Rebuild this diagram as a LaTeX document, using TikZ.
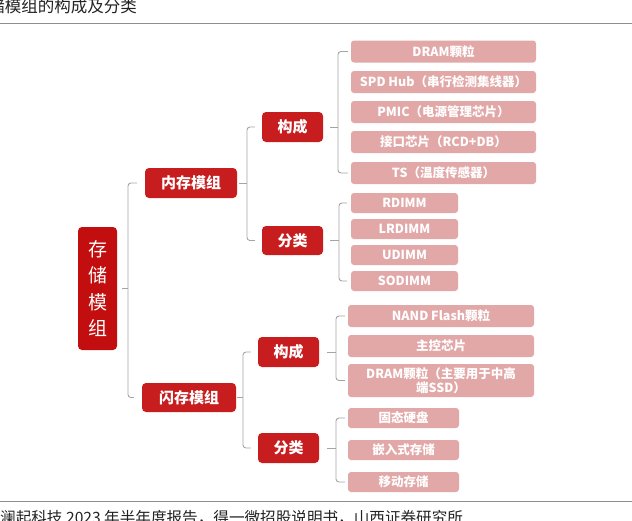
\documentclass[tikz,border=0pt]{standalone}
\usepackage{fontspec}
\setmainfont{Noto Sans CJK SC}
\usetikzlibrary{calc}
\definecolor{rootred}{HTML}{C20E0E}
\definecolor{boxred}{HTML}{C81D1F}
\definecolor{pinkbox}{HTML}{E2A7A7}
\definecolor{linegray}{HTML}{A4A4A4}
\definecolor{rulegray}{HTML}{8E8E8E}
\definecolor{txtdark}{HTML}{222222}
\begin{document}
\begin{tikzpicture}[x=1pt,y=-1pt,
  rootbox/.style={fill=rootred, rounded corners=4pt, text=white, minimum width=39pt, minimum height=123pt, inner sep=0pt, align=center, font=\fontsize{19}{26.5}\selectfont},
  lvbox/.style={fill=boxred, rounded corners=4pt, text=white, inner sep=0pt, font=\bfseries\fontsize{15}{18}\selectfont},
  leaf/.style={fill=pinkbox, rounded corners=3pt, text=white, inner sep=0pt, font=\bfseries\fontsize{12.5}{15}\selectfont},
  conn/.style={draw=linegray, line width=0.9pt, rounded corners=3pt},
  rulel/.style={draw=rulegray, line width=1.8pt}
]
\useasboundingbox (0,0) rectangle (632,520);

% title and source
\node[anchor=base east, inner sep=0pt, text=txtdark, font=\fontsize{16.5}{18}\selectfont] (title) at (137,12.5) {存储模组的构成及分类};
\draw[rulel] (0,23.5) -- (632,23.5);
\draw[rulel] (0,501.5) -- (632,501.5);
\node[anchor=base west, inner sep=0pt, text=txtdark, font=\fontsize{15.6}{18}\selectfont] (src) at (0,523.5) {澜起科技 2023 年半年度报告，得一微招股说明书，山西证券研究所};

% root
\node[rootbox] (root) at (97.5,288.5) {存\\储\\模\\组};

% level 1
\node[lvbox, minimum width=92pt, minimum height=30pt] (nc) at (191,183) {内存模组};
\node[lvbox, minimum width=94pt, minimum height=29pt] (fc) at (189,397.5) {闪存模组};

% level 2
\node[lvbox, minimum width=61pt, minimum height=30pt] (gc1) at (292.5,127) {构成};
\node[lvbox, minimum width=61pt, minimum height=29pt] (fl1) at (292.5,240.5) {分类};
\node[lvbox, minimum width=61pt, minimum height=30pt] (gc2) at (288.5,352) {构成};
\node[lvbox, minimum width=61pt, minimum height=30pt] (fl2) at (288.5,448) {分类};

% leaves A
\node[leaf, minimum width=185pt, minimum height=22pt] (a1) at (443.5,51.5) {DRAM颗粒};
\node[leaf, minimum width=185pt, minimum height=22pt] (a2) at (443.5,82) {SPD Hub（串行检测集线器）};
\node[leaf, minimum width=185pt, minimum height=22pt] (a3) at (443.5,112) {PMIC（电源管理芯片）};
\node[leaf, minimum width=185pt, minimum height=22pt] (a4) at (443.5,142) {接口芯片（RCD+DB）};
\node[leaf, minimum width=185pt, minimum height=22pt] (a5) at (443.5,173) {TS（温度传感器）};

% leaves B
\node[leaf, minimum width=107pt, minimum height=20pt] (b1) at (404.5,203) {RDIMM};
\node[leaf, minimum width=107pt, minimum height=20pt] (b2) at (404.5,229) {LRDIMM};
\node[leaf, minimum width=107pt, minimum height=20pt] (b3) at (404.5,255) {UDIMM};
\node[leaf, minimum width=107pt, minimum height=20pt] (b4) at (404.5,281) {SODIMM};

% leaves C
\node[leaf, minimum width=186pt, minimum height=22pt] (c1) at (441,316) {NAND Flash颗粒};
\node[leaf, minimum width=186pt, minimum height=22pt] (c2) at (441,346) {主控芯片};
\node[leaf, minimum width=186pt, minimum height=33pt, align=center, font=\bfseries\fontsize{12.5}{14.5}\selectfont] (c3) at (441,380.5) {DRAM颗粒（主要用于中高\\端SSD）};

% leaves D
\node[leaf, minimum width=111pt, minimum height=20pt] (d1) at (403.5,418) {固态硬盘};
\node[leaf, minimum width=111pt, minimum height=20pt] (d2) at (403.5,450) {嵌入式存储};
\node[leaf, minimum width=111pt, minimum height=20pt] (d3) at (403.5,482) {移动存储};

% bracket verticals
\coordinate (v0) at (128,0);
\coordinate (v1) at (247,0);
\coordinate (v2) at (243,0);
\coordinate (v3) at (338,0);
\coordinate (v4) at (339,0);
\coordinate (v5) at (336,0);

% root brackets
\draw[conn] ($(nc.west)+(-8,0)$) -- (nc.west -| v0) -- (fc.west -| v0) -- ($(fc.west)+(-8,0)$);
\draw[conn] ($(root.east)+(5,0)$) -- (root.east -| v0);

% 内存模组
\draw[conn] ($(gc1.west)+(-7,0)$) -- (gc1.west -| v1) -- (fl1.west -| v1) -- ($(fl1.west)+(-7,0)$);
\draw[conn] ($(nc.east)+(2,0)$) -- (nc.east -| v1);

% 闪存模组
\draw[conn] ($(gc2.west)+(-7,0)$) -- (gc2.west -| v2) -- (fl2.west -| v2) -- ($(fl2.west)+(-7,0)$);
\draw[conn] ($(fc.east)+(1,0)$) -- (fc.east -| v2);

% 构成 (top)
\draw[conn] ($(a1.west)+(-3,0)$) -- (a1.west -| v3) -- (a5.west -| v3) -- ($(a5.west)+(-3,0)$);
\draw[conn] ($(gc1.east)+(7,0)$) -- (gc1.east -| v3);

% 分类 (top)
\draw[conn] ($(b1.west)+(-4,0)$) -- (b1.west -| v4) -- (b4.west -| v4) -- ($(b4.west)+(-4,0)$);
\draw[conn] ($(fl1.east)+(7,0)$) -- (fl1.east -| v4);

% 构成 (bottom)
\draw[conn] ($(c1.west)+(-3,0)$) -- (c1.west -| v5) -- (c3.west -| v5) -- ($(c3.west)+(-3,0)$);
\draw[conn] ($(gc2.east)+(8,0)$) -- (gc2.east -| v5);

% 分类 (bottom)
\draw[conn] ($(d1.west)+(-3,0)$) -- (d1.west -| v5) -- (d3.west -| v5) -- ($(d3.west)+(-3,0)$);
\draw[conn] ($(fl2.east)+(8,0)$) -- (fl2.east -| v5);
\end{tikzpicture}
\end{document}
